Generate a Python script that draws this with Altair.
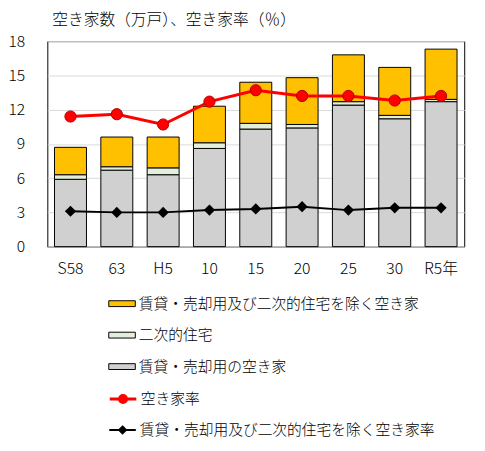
import altair as alt
import pandas as pd

FONT = "Noto Sans CJK JP"
FW = 300

years = ["S58", "63", "H5", "10", "15", "20", "25", "30", "R5年"]
rental_sale = [5.9, 6.7, 6.3, 8.6, 10.3, 10.4, 12.4, 11.2, 12.7]
secondary = [0.4, 0.3, 0.6, 0.5, 0.5, 0.3, 0.3, 0.3, 0.2]
other_vacant = [2.4, 2.6, 2.7, 3.2, 3.6, 4.1, 4.1, 4.2, 4.4]
vacancy_rate = [11.4, 11.6, 10.7, 12.7, 13.7, 13.2, 13.2, 12.8, 13.2]
other_rate = [3.1, 3.0, 3.0, 3.2, 3.3, 3.5, 3.2, 3.4, 3.4]
y_ticks = [0, 3, 6, 9, 12, 15, 18]

bar_names = ["賃貸・売却用及び二次的住宅を除く空き家", "二次的住宅", "賃貸・売却用の空き家"]
bar_colors = ["#FFC000", "#E2EFDA", "#D0D0D0"]
rate_name = "空き家率"
other_rate_name = "賃貸・売却用及び二次的住宅を除く空き家率"
title_text = "空き家数（万戸）、空き家率（％）"

rows = []
for i, yr in enumerate(years):
    rows.append({"year": yr, "series": bar_names[2], "value": rental_sale[i], "ord": 0})
    rows.append({"year": yr, "series": bar_names[1], "value": secondary[i], "ord": 1})
    rows.append({"year": yr, "series": bar_names[0], "value": other_vacant[i], "ord": 2})
bar_df = pd.DataFrame(rows)
rate_df = pd.DataFrame({"year": years, "v": vacancy_rate, "s": rate_name})
orate_df = pd.DataFrame({"year": years, "v": other_rate, "s": other_rate_name})

x_enc = alt.X(
    "year:N", sort=years, title=None,
    scale=alt.Scale(paddingInner=0.31, paddingOuter=0.155),
    axis=alt.Axis(labelAngle=0, ticks=False, domain=False, labelPadding=14,
                  labelFontSize=16, labelColor="black", labelFont=FONT, labelFontWeight=FW,
                  grid=False),
)
y_scale = alt.Scale(domain=[0, 18], nice=False)
y_axis = alt.Axis(values=y_ticks, ticks=False, domain=False, labelPadding=23,
                  labelFontSize=16, labelColor="black", labelFont=FONT, labelFontWeight=FW,
                  labelOverlap=False,
                  grid=True, gridColor="#D9D9D9", gridWidth=1, title=None)

leg_common = dict(title=None, orient="none", padding=0, labelFontSize=15, labelFont=FONT,
                  labelFontWeight=FW, labelColor="black", labelLimit=400, labelOffset=3,
                  symbolSize=729)

bars = alt.Chart(bar_df).mark_bar(stroke="black", strokeWidth=1).encode(
    x=x_enc,
    y=alt.Y("value:Q", stack="zero", scale=y_scale, axis=y_axis),
    fill=alt.Fill("series:N", scale=alt.Scale(domain=bar_names, range=bar_colors),
                  legend=alt.Legend(legendX=62, legendY=253, rowPadding=10,
                                    symbolType="M-1,-0.22H1V0.22H-1Z",
                                    symbolStrokeColor="black", symbolStrokeWidth=1,
                                    **leg_common)),
    order=alt.Order("ord:Q"),
)

red_line = alt.Chart(rate_df).mark_line(strokeWidth=3).encode(
    x=x_enc, y=alt.Y("v:Q", scale=y_scale, axis=y_axis),
    stroke=alt.Stroke("s:N", scale=alt.Scale(domain=[rate_name], range=["#FF0000"]),
                      legend=alt.Legend(legendX=62, legendY=349, rowPadding=5,
                                        symbolType="M-1,0H1M-0.27,0A0.27,0.27 0 1,0 0.27,0A0.27,0.27 0 1,0 -0.27,0Z",
                                        symbolFillColor="#FF0000", symbolStrokeWidth=3,
                                        **leg_common)),
)
red_pts = alt.Chart(rate_df).mark_point(filled=True, size=130, fill="#FF0000", stroke="#B00000",
                                        strokeWidth=1, opacity=1).encode(
    x=x_enc, y=alt.Y("v:Q", scale=y_scale, axis=y_axis))

blk_line = alt.Chart(orate_df).mark_line(strokeWidth=2).encode(
    x=x_enc, y=alt.Y("v:Q", scale=y_scale, axis=y_axis),
    color=alt.Color("s:N", scale=alt.Scale(domain=[other_rate_name], range=["#000000"]),
                    legend=alt.Legend(legendX=62, legendY=381, rowPadding=5,
                                      symbolType="M-1,0H1M0,-0.26L0.26,0L0,0.26L-0.26,0Z",
                                      symbolFillColor="#000000", symbolStrokeWidth=2,
                                      **leg_common)),
)
blk_pts = alt.Chart(orate_df).mark_point(filled=True, shape="diamond", size=130, fill="#000000",
                                         opacity=1).encode(
    x=x_enc, y=alt.Y("v:Q", scale=y_scale, axis=y_axis))

chart = alt.layer(bars, red_line, red_pts, blk_line, blk_pts).properties(
    width=424, height=209,
    padding={"left": 40, "top": 30, "right": 13, "bottom": 196},
    autosize=alt.AutoSizeParams(type="none"),
    title=alt.TitleParams(title_text, anchor="start", frame="group", fontSize=16, fontWeight=FW,
                          font=FONT, color="black", offset=5, dx=5),
).configure(font=FONT).configure_view(stroke="black", strokeWidth=1)

chart.save("out.html", embed_options={"renderer": "svg", "actions": False})
